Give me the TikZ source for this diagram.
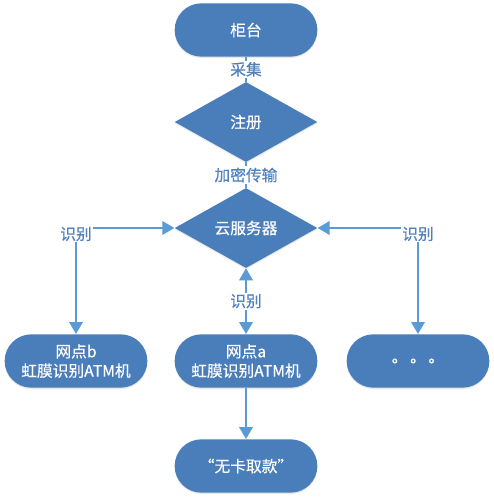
\documentclass[tikz,border=0pt]{standalone}
\usepackage{fontspec}
\newfontfamily\cjk[FakeBold=0.4]{Noto Sans CJK SC}
\usetikzlibrary{shapes.geometric,arrows.meta,shadows}

\begin{document}
\begin{tikzpicture}[x=0.75pt, y=-0.75pt, font=\cjk\fontsize{11.8}{14.5}\selectfont]

  % Define Colors
  \definecolor{boxblue}{RGB}{74,126,187}
  \definecolor{lineblue}{RGB}{91,155,213}
  \definecolor{textblue}{RGB}{79,129,189}

  % Node styles
  \tikzstyle{pill}=[rectangle, rounded corners=20pt, fill=boxblue, text=white, minimum width=107pt, minimum height=40pt, align=center, inner sep=2pt, drop shadow={opacity=0.18, shadow xshift=0pt, shadow yshift=-1pt}]
  \tikzstyle{rhomb}=[diamond, aspect=1.8, fill=boxblue, text=white, minimum width=107pt, minimum height=60pt, inner sep=0pt, drop shadow={opacity=0.18, shadow xshift=0pt, shadow yshift=-1pt}]
  \tikzstyle{lbl}=[fill=white, text=textblue, inner sep=1pt]

  \tikzstyle{thin_link}=[line width=0.8pt, lineblue]
  \tikzstyle{both_link}=[line width=1.8pt, lineblue, {Triangle[width=10pt,length=9pt]}-{Triangle[width=10pt,length=9pt]}]
  \tikzstyle{one_link}=[line width=1.8pt, lineblue, -{Triangle[width=10pt,length=9pt]}]

  \useasboundingbox (0,0) rectangle (493,498);

  % Nodes
  \node[pill] (n_desk) at (246,30) {柜台};
  \node[rhomb] (n_reg) at (246,122) {注册};
  \node[rhomb] (n_cloud) at (246,228) {云服务器};

  \node[pill] (n_b) at (76,361) {网点b\\虹膜识别ATM机};
  \node[pill] (n_a) at (246,361) {网点a\\虹膜识别ATM机};
  \node[pill] (n_etc) at (418,361) {。\,。\,。};

  \node[pill] (n_cash) at (246,466) {“无卡取款”};

  % Top links
  \draw[thin_link] (n_desk) -- (n_reg) node [lbl, pos=0.5] {采集};
  \draw[thin_link] (n_reg) -- (n_cloud) node [lbl, pos=0.5] {加密传输};

  % Side links
  \draw[both_link] (n_b.north) |- node [lbl, pos=0.5, yshift=-4.5pt] {识别} (n_cloud.west);
  \draw[both_link] (n_etc.north) |- node [lbl, pos=0.5, yshift=-4.5pt] {识别} (n_cloud.east);
  \draw[both_link] (n_cloud) -- node [lbl, pos=0.5] {识别} (n_a);

  % Bottom link
  \draw[one_link] (n_a) -- (n_cash);

\end{tikzpicture}
\end{document}
